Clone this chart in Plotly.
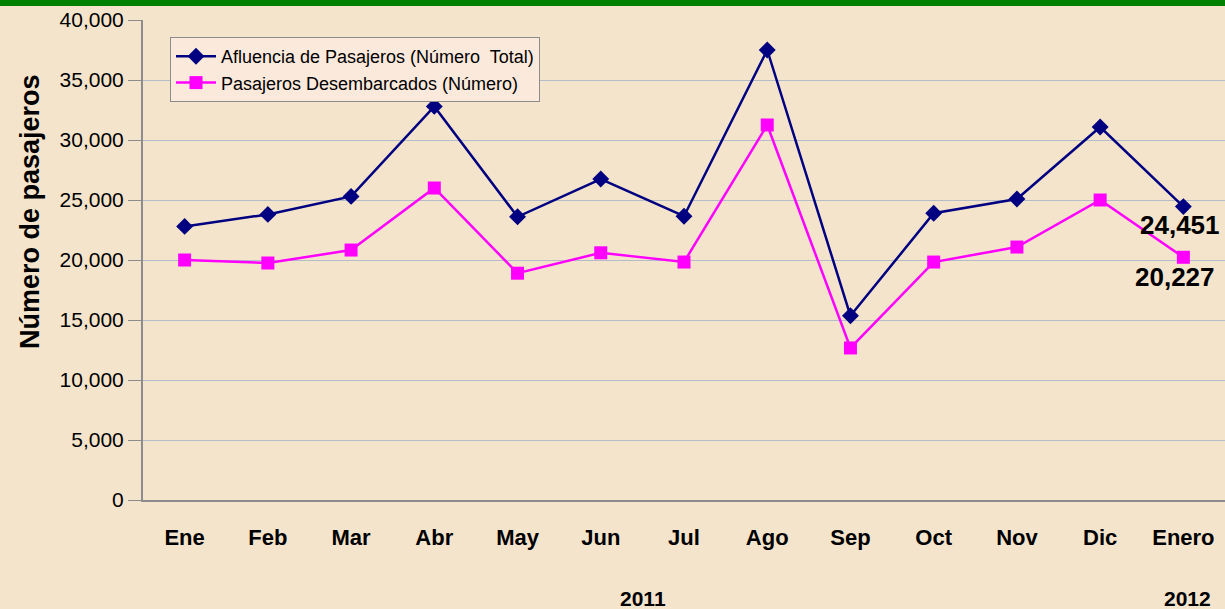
import plotly.graph_objects as go

months = ["Ene", "Feb", "Mar", "Abr", "May", "Jun", "Jul", "Ago", "Sep", "Oct", "Nov", "Dic", "Enero"]
afluencia = [22800, 23800, 25300, 32800, 23600, 26750, 23650, 37500, 15350, 23900, 25080, 31080, 24451]
desembarcados = [20000, 19750, 20830, 26000, 18900, 20600, 19830, 31250, 12670, 19830, 21080, 25000, 20227]
y_ticks = [0, 5000, 10000, 15000, 20000, 25000, 30000, 35000, 40000]
year_labels = ["2011", "2012"]

W, H = 1225, 609
L, R, T, B = 143, 0, 20, 109
pw = W - L - R
ph = H - T - B

fig = go.Figure()
fig.add_trace(go.Scatter(
    x=months, y=afluencia, mode="lines+markers",
    name="Afluencia de Pasajeros (Número  Total)",
    line=dict(color="#000080", width=2.5),
    marker=dict(symbol="diamond", size=13, color="#000080"),
))
fig.add_trace(go.Scatter(
    x=months, y=desembarcados, mode="lines+markers",
    name="Pasajeros Desembarcados (Número)",
    line=dict(color="#ff00ff", width=2.5),
    marker=dict(symbol="square", size=13, color="#ff00ff"),
))

bg = "#f5e4cc"
fig.update_layout(
    width=W, height=H,
    margin=dict(l=L, r=R, t=T, b=B),
    paper_bgcolor=bg, plot_bgcolor=bg,
    font=dict(family="Arial, Liberation Sans, sans-serif", color="black"),
    showlegend=True,
    legend=dict(
        x=(170 - L) / pw, y=(H - B - 37) / ph, xanchor="left", yanchor="top",
        bgcolor="#fbeadc", bordercolor="#8c8c8c", borderwidth=1,
        font=dict(size=18, color="black"),
        tracegroupgap=0, itemwidth=40,
    ),
    xaxis=dict(
        type="category", showgrid=False, showline=True, linecolor="#8c8c8c", linewidth=2,
        ticks="", ticklabelstandoff=17,
        tickfont=dict(size=22, weight="bold"),
        range=[-0.5, 12.5], fixedrange=True,
    ),
    yaxis=dict(
        range=[0, 40000], tickvals=y_ticks, tickformat=",d",
        showgrid=True, gridcolor="#b4bcc8", gridwidth=1,
        showline=True, linecolor="#8c8c8c", linewidth=2,
        ticks="outside", ticklen=13, tickcolor="#8c8c8c",
        tickfont=dict(size=21), zeroline=False, fixedrange=True,
    ),
)

# Green top strip
fig.add_shape(type="rect", xref="paper", yref="paper",
              x0=-L / pw - 0.01, x1=1.01, y0=1 + (T - 6) / ph, y1=1 + T / ph + 0.01,
              fillcolor="#008000", line=dict(width=0), layer="above")

# Y axis title
fig.add_annotation(xref="paper", yref="paper", x=(30 - L) / pw, y=(H - B - 212) / ph,
                   text="<b>Número de pasajeros</b>", textangle=-90, showarrow=False,
                   font=dict(size=27), xanchor="center", yanchor="middle")

# Year labels
fig.add_annotation(xref="paper", yref="paper", x=(643 - L) / pw, y=-(598 - (H - B)) / ph,
                   text="<b>" + year_labels[0] + "</b>", showarrow=False,
                   font=dict(size=21), xanchor="center", yanchor="middle")
fig.add_annotation(xref="paper", yref="paper", x=(1187 - L) / pw, y=-(598 - (H - B)) / ph,
                   text="<b>" + year_labels[1] + "</b>", showarrow=False,
                   font=dict(size=21), xanchor="center", yanchor="middle")

# Data labels for last point
fig.add_annotation(x=months[-1], y=afluencia[-1], text="<b>{:,}</b>".format(afluencia[-1]),
                   showarrow=False, xanchor="right", yanchor="middle",
                   xshift=39, yshift=-18, font=dict(size=26))
fig.add_annotation(x=months[-1], y=desembarcados[-1], text="<b>{:,}</b>".format(desembarcados[-1]),
                   showarrow=False, xanchor="right", yanchor="middle",
                   xshift=34, yshift=-20, font=dict(size=26))

fig.write_html("out.html", config={"displayModeBar": False},
               post_script="document.body.style.margin='0';document.body.style.overflow='hidden';")
